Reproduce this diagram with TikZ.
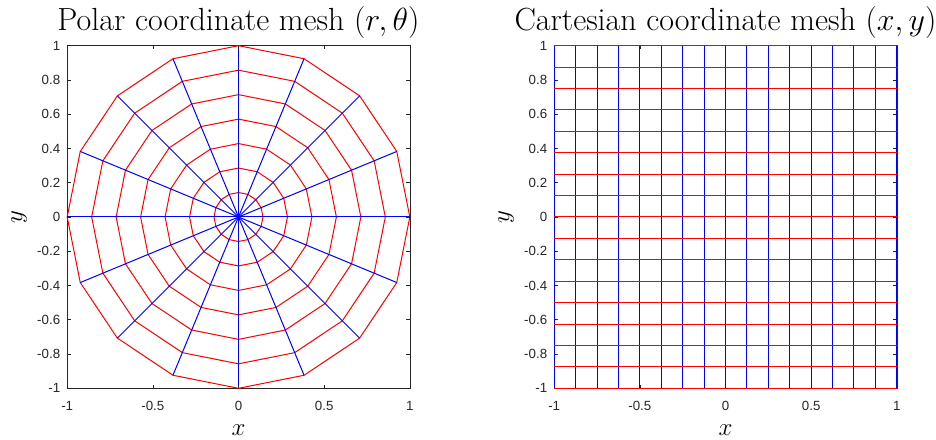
\RequirePackage{fix-cm}
\documentclass[tikz,border=0pt]{standalone}
\usepackage{fontspec}
\newfontfamily\tickfont{Liberation Sans}
\definecolor{axgray}{RGB}{38,38,38}
\begin{document}
\begin{tikzpicture}[x=1pt,y=1pt]
\useasboundingbox (0,0) rectangle (936,439);
\tikzset{
  redline/.style={draw=red, line width=1pt},
  blueline/.style={draw=blue, line width=1pt},
  axbox/.style={draw=axgray, line width=0.6pt},
  tickmark/.style={draw=axgray, line width=0.6pt},
  ticklab/.style={font=\tickfont\fontsize{13.3}{15}\selectfont, text=axgray, inner sep=0pt},
  titlelab/.style={font=\fontsize{32}{38}\selectfont, inner sep=0pt, anchor=base},
  axlab/.style={font=\fontsize{25}{30}\selectfont, inner sep=0pt},
}
% ---------------- left axes: polar mesh ----------------
\begin{scope}[shift={(238.5,222)}, x=171.3pt, y=171.3pt]
  \draw[axbox] (-1,-1) rectangle (1,1);
  \foreach \k in {1,...,7}
    \draw[redline] (0:\k/7) \foreach \a in {1,...,15}{ -- (\a*22.5:\k/7)} -- cycle;
  \foreach \a in {0,...,15}
    \draw[blueline] (0,0) -- (\a*22.5:1);
  \foreach \x/\lab [count=\i] in {-1/-1,-0.5/-0.5,0/0,0.5/0.5,1/1}{
    \draw[tickmark] (\x,-1) -- (\x,-0.98);
    \draw[tickmark] (\x,1) -- (\x,0.98);
    \node[ticklab] (lxt\i) at (\x,-1.1) {\lab};
  }
  \foreach \y/\lab [count=\i] in {-1/-1,-0.8/-0.8,-0.6/-0.6,-0.4/-0.4,-0.2/-0.2,0/0,0.2/0.2,0.4/0.4,0.6/0.6,0.8/0.8,1/1}{
    \draw[tickmark] (-1,\y) -- (-0.98,\y);
    \draw[tickmark] (1,\y) -- (0.98,\y);
    \node[ticklab, anchor=east] (lyt\i) at (-1.04,\y) {\lab};
  }
  \node[titlelab] (ltitle) at (0,1.086) {Polar coordinate mesh $(r,\theta)$};
  \node[axlab, anchor=base] (lxlab) at (0,-1.278) {$x$};
  \node[axlab, rotate=90] (lylab) at (-1.28,0) {$y$};
\end{scope}
% ---------------- right axes: cartesian mesh ----------------
\begin{scope}[shift={(725.5,222)}, x=171.3pt, y=171.3pt]
  \draw[axbox] (-1,-1) rectangle (1,1);
  \foreach \x/\lab [count=\i] in {-1/-1,-0.5/-0.5,0/0,0.5/0.5,1/1}{
    \draw[tickmark] (\x,-1) -- (\x,-0.98);
    \draw[tickmark] (\x,1) -- (\x,0.98);
    \node[ticklab] (rxt\i) at (\x,-1.1) {\lab};
  }
  \foreach \y/\lab [count=\i] in {-1/-1,-0.8/-0.8,-0.6/-0.6,-0.4/-0.4,-0.2/-0.2,0/0,0.2/0.2,0.4/0.4,0.6/0.6,0.8/0.8,1/1}{
    \draw[tickmark] (-1,\y) -- (-0.98,\y);
    \draw[tickmark] (1,\y) -- (0.98,\y);
    \node[ticklab, anchor=east] (ryt\i) at (-1.04,\y) {\lab};
  }
  \foreach \k in {0,...,16}
    \draw[blueline] (-1+\k/8,-1) -- (-1+\k/8,1);
  \foreach \k in {0,...,16}
    \draw[redline] (-1,-1+\k/8) -- (1,-1+\k/8);
  \node[titlelab] (rtitle) at (0,1.086) {Cartesian coordinate mesh $(x,y)$};
  \node[axlab, anchor=base] (rxlab) at (0,-1.278) {$x$};
  \node[axlab, rotate=90] (rylab) at (-1.28,0) {$y$};
\end{scope}
\end{tikzpicture}
\end{document}
